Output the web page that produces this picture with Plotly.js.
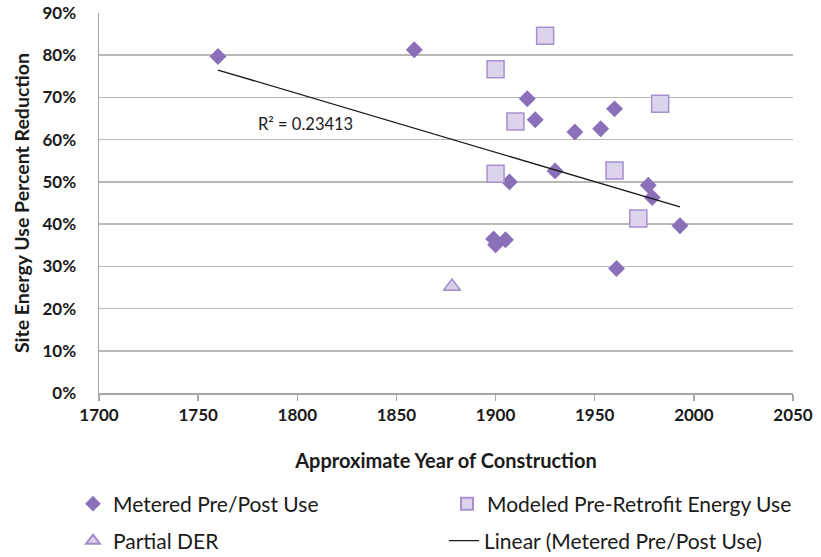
<!DOCTYPE html>
<html>
<head>
<meta charset="utf-8">
<script src="https://cdn.plot.ly/plotly-3.0.1.min.js"></script>
<style>html,body{margin:0;padding:0;background:#fff;}#chart{width:821px;height:557px;}</style>
</head>
<body>
<div id="chart"></div>
<script>
// Metered Pre/Post Use
const meteredYear = [1760, 1859, 1916, 1920, 1940, 1953, 1960, 1907, 1930, 1977, 1979, 1993, 1899, 1900, 1905, 1961];
const meteredPct  = [0.797, 0.813, 0.697, 0.647, 0.618, 0.626, 0.673, 0.500, 0.526, 0.492, 0.463, 0.396, 0.365, 0.351, 0.363, 0.295];
// Modeled Pre-Retrofit Energy Use
const modeledYear = [1925, 1900, 1910, 1983, 1900, 1960, 1972];
const modeledPct  = [0.846, 0.767, 0.643, 0.685, 0.519, 0.527, 0.413];
// Partial DER
const partialYear = [1878];
const partialPct  = [0.252];
// Trendline label
const r2Label = "R² = 0.23413";
const r2Pos = [1804, 0.636];
const xTicks = [1700, 1750, 1800, 1850, 1900, 1950, 2000, 2050];
const yTicks = [0, 0.1, 0.2, 0.3, 0.4, 0.5, 0.6, 0.7, 0.8, 0.9];

// least-squares linear fit over metered data (as the spreadsheet trendline)
const n = meteredYear.length;
const mx = meteredYear.reduce((a,b)=>a+b,0)/n;
const my = meteredPct.reduce((a,b)=>a+b,0)/n;
let sxy = 0, sxx = 0;
for (let i=0;i<n;i++){ sxy += (meteredYear[i]-mx)*(meteredPct[i]-my); sxx += (meteredYear[i]-mx)**2; }
const slope = sxy/sxx, icpt = my - slope*mx;
const xMin = Math.min(...meteredYear), xMax = Math.max(...meteredYear);
const trendX = [xMin, xMax];
const trendY = trendX.map(x => icpt + slope*x);

const FONT = "Lato, 'Open Sans', sans-serif";
const purple = "#8a70b8";

const traces = [
  {x: meteredYear, y: meteredPct, type:'scatter', mode:'markers', name:'Metered Pre/Post Use', legend:'legend',
   marker:{symbol:'diamond', size:13, color:purple, line:{width:0}}, cliponaxis:false},
  {x: modeledYear, y: modeledPct, type:'scatter', mode:'markers', name:'Modeled Pre-Retrofit Energy Use', legend:'legend2',
   marker:{symbol:'square', size:17, color:'#ddd3ec', line:{width:1.5, color:'#a791cc'}}, cliponaxis:false},
  {x: partialYear, y: partialPct, type:'scatter', mode:'markers', name:'Partial DER', legend:'legend3',
   marker:{symbol:'triangle-up', size:15, color:'#d9cfe9', line:{width:1.5, color:'#a08cc6'}}, cliponaxis:false},
  {x: trendX, y: trendY, type:'scatter', mode:'lines', name:'Linear (Metered Pre/Post Use)', legend:'legend4',
   line:{color:'#1a1a1a', width:1.3}}
];

function leg(xpx, ypx, sizing) {
  return {orientation:'h', xref:'container', x: xpx/821, xanchor:'left', yref:'container', y: 1 - ypx/557, yanchor:'middle',
    itemsizing: sizing, bgcolor:'rgba(0,0,0,0)', borderwidth:0,
    font:{size:21, family:FONT, color:'#1a1a1a'}};
}

const layout = {
  width: 821, height: 557,
  margin: {l: 99, r: 28, t: 13, b: 164},
  paper_bgcolor:'#fff', plot_bgcolor:'#fff',
  font: {family: FONT, color:'#1a1a1a'},
  showlegend: true,
  legend:  leg(73, 504, 'constant'),
  legend2: leg(447, 504, 'constant'),
  legend3: leg(73, 541, 'constant'),
  legend4: leg(444, 541, 'trace'),
  xaxis: {range:[1700, 2050], tickvals: xTicks, ticktext: xTicks.map(String), automargin:false,
          showgrid:false, zeroline:false, showline:true, linecolor:'#a6a6a6', linewidth:1.5,
          ticks:'outside', ticklen:6, tickcolor:'#a6a6a6', tickwidth:1.5,
          tickfont:{size:17, family:FONT, weight:'bold', color:'#1a1a1a'},
          title:{text:'<b>Approximate Year of Construction</b>', font:{size:20, family:FONT, color:'#1a1a1a'}, standoff:30}},
  yaxis: {range:[0, 0.9], tickvals: yTicks, ticktext: yTicks.map(v => Math.round(v*100)+'%'), automargin:false,
          showgrid:true, gridcolor:'#b8b8b8', gridwidth:1.5, zeroline:false,
          showline:true, linecolor:'#a6a6a6', linewidth:1.5, ticks:'', ticklabelstandoff:18,
          tickfont:{size:17, family:FONT, weight:'bold', color:'#1a1a1a'},
          title:{text:'<b>Site Energy Use Percent Reduction</b>', font:{size:19.5, family:FONT, color:'#1a1a1a'}, standoff:7}},
  annotations: [
    {x: r2Pos[0], y: r2Pos[1], xref:'x', yref:'y', text: r2Label, showarrow:false,
     font:{size:16.5, family:FONT, color:'#1a1a1a'}}
  ]
};

Plotly.newPlot('chart', traces, layout, {displayModeBar:false, staticPlot:true});
</script>
</body>
</html>
